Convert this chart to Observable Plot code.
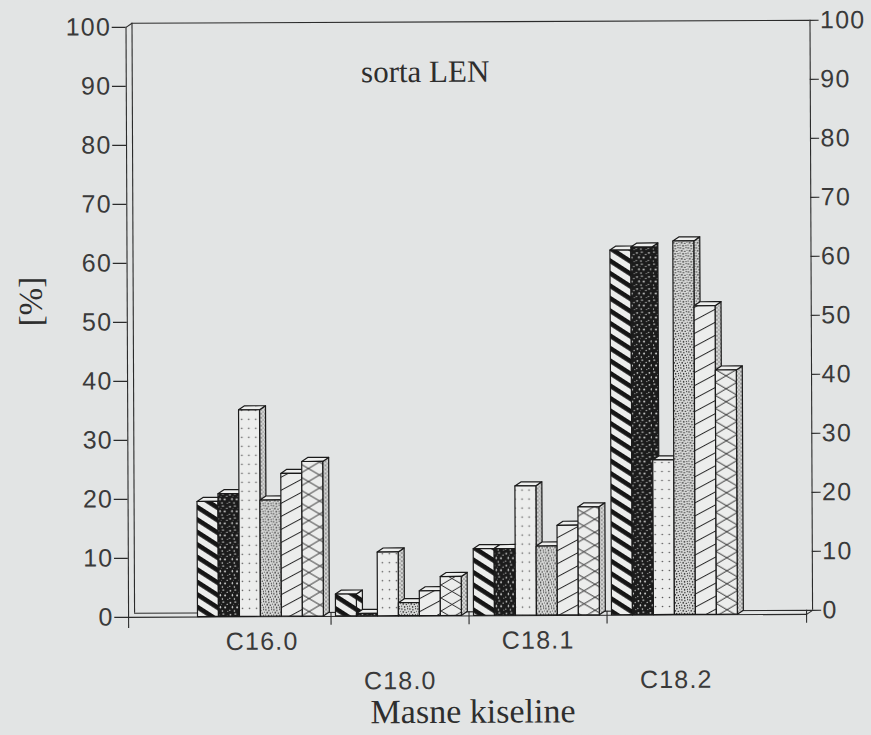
<!DOCTYPE html>
<html>
<head>
<meta charset="utf-8">
<script src="https://cdn.jsdelivr.net/npm/d3@7"></script>
<script src="https://cdn.jsdelivr.net/npm/@observablehq/plot@0.6"></script>
<style>
  html, body { margin: 0; padding: 0; background: #e2e4e4; overflow: hidden; }
  #chart svg { display: block; transform: rotate(-0.25deg); transform-origin: 50% 50%; }
  g[font-family^="Liberation Sans"] text { letter-spacing: 1.2px; }
</style>
</head>
<body>
<!-- fill patterns for the six bar series -->
<svg width="0" height="0" style="position:absolute">
  <defs>
    <pattern id="pHatch" patternUnits="userSpaceOnUse" width="20" height="10.5" patternTransform="rotate(33)">
      <rect width="20" height="10.5" fill="#ecedec"/>
      <rect width="20" height="4.6" fill="#151515"/>
    </pattern>
    <pattern id="pDark" patternUnits="userSpaceOnUse" width="12" height="12">
      <rect width="12" height="12" fill="#1b1b1b"/>
      <circle cx="1.4" cy="1.8" r="0.9" fill="#d0d1d0"/>
      <ellipse cx="6.3" cy="1.1" rx="1.2" ry="0.6" fill="#d0d1d0"/>
      <circle cx="10.2" cy="3.4" r="0.7" fill="#d0d1d0"/>
      <circle cx="8.1" cy="6.6" r="1.0" fill="#d0d1d0"/>
      <ellipse cx="3.4" cy="6.2" rx="0.7" ry="1.2" fill="#d0d1d0"/>
      <circle cx="0.8" cy="9.4" r="0.6" fill="#d0d1d0"/>
      <circle cx="5.4" cy="10.1" r="0.8" fill="#d0d1d0"/>
      <circle cx="10.8" cy="10.6" r="0.5" fill="#d0d1d0"/>
      <circle cx="4.6" cy="3.6" r="0.4" fill="#d0d1d0"/>
    </pattern>
    <pattern id="pDots" patternUnits="userSpaceOnUse" width="7" height="9">
      <rect width="7" height="9" fill="#ecedec"/>
      <circle cx="3.5" cy="4.5" r="0.8" fill="#555"/>
    </pattern>
    <pattern id="pStip" patternUnits="userSpaceOnUse" width="8" height="8">
      <rect width="8" height="8" fill="#dadbda"/>
      <circle cx="0.9" cy="1.0" r="0.8" fill="#1e1e1e"/>
      <circle cx="3.9" cy="1.8" r="0.7" fill="#1e1e1e"/>
      <circle cx="6.6" cy="0.7" r="0.6" fill="#1e1e1e"/>
      <circle cx="2.2" cy="3.9" r="0.8" fill="#1e1e1e"/>
      <circle cx="5.3" cy="4.4" r="0.7" fill="#1e1e1e"/>
      <circle cx="7.4" cy="3.2" r="0.5" fill="#1e1e1e"/>
      <circle cx="0.6" cy="6.1" r="0.6" fill="#1e1e1e"/>
      <circle cx="3.6" cy="6.9" r="0.8" fill="#1e1e1e"/>
      <circle cx="6.4" cy="6.6" r="0.6" fill="#1e1e1e"/>
    </pattern>
    <pattern id="pDiag" patternUnits="userSpaceOnUse" width="10" height="11.5" patternTransform="rotate(-28)">
      <rect width="10" height="11.5" fill="#ecedec"/>
      <line x1="0" y1="0.5" x2="10" y2="0.5" stroke="#2a2a2a" stroke-width="1"/>
    </pattern>
    <pattern id="pCross" patternUnits="userSpaceOnUse" width="22" height="13">
      <rect width="22" height="13" fill="#ecedec"/>
      <path d="M0,0L22,13M0,13L22,0" stroke="#2a2a2a" stroke-width="1" fill="none"/>
    </pattern>
    <pattern id="pSide" patternUnits="userSpaceOnUse" width="4" height="4">
      <rect width="4" height="4" fill="#d6d7d6"/>
      <circle cx="1" cy="1" r="0.65" fill="#2a2a2a"/>
      <circle cx="3" cy="3" r="0.6" fill="#2a2a2a"/>
    </pattern>
  </defs>
</svg>
<div id="chart"></div>
<script>
// fatty acid groups on the x axis
const groups = ["C16.0", "C18.0", "C18.1", "C18.2"];
// share [%] of each fatty acid, six samples per group
const valuesC160 = [19.5, 20.8, 35.0, 19.7, 24.2, 26.2];
const valuesC180 = [3.7, 0.4, 10.8, 2.2, 4.2, 6.6];
const valuesC181 = [11.3, 11.3, 21.9, 11.7, 15.2, 18.3];
const valuesC182 = [61.8, 62.3, 26.2, 63.3, 52.3, 41.4];
// y tick labels, both sides
const yTicks = [0, 10, 20, 30, 40, 50, 60, 70, 80, 90, 100];
// fill of each sample's bar front and side
const frontFills = ["pHatch", "pDark", "pDots", "pStip", "pDiag", "pCross"];
const sideFills = ["pHatch", "pDark", "pSide", "pStip", "pSide", "pSide"];

// frame extent and pseudo-3D depth (x in group units, y in percent)
const XMIN = -0.467, XMAX = 4.446;
const DX = 0.0435, DY = 0.68;
const OFF = 0.036, W = 0.152;

const bars = [];
[valuesC160, valuesC180, valuesC181, valuesC182].forEach((vals, gi) => {
  vals.forEach((v, si) => {
    const x1 = gi + OFF + si * W;
    bars.push({id: `${gi}-${si}`, group: groups[gi], gi, si, v, x1, x2: x1 + W});
  });
});

// side face: parallelogram to the right of the front
const sides = bars.flatMap(b => [
  {id: b.id, si: b.si, x: b.x2, y1: 0, y2: b.v},
  {id: b.id, si: b.si, x: b.x2 + DX, y1: DY, y2: b.v + DY}
]);
// top face: parallelogram above the front
const tops = bars.flatMap(b => [
  {id: b.id, si: b.si, x: b.x1, y1: b.v, y2: b.v},
  {id: b.id, si: b.si, x: b.x1 + DX, y1: b.v, y2: b.v + DY},
  {id: b.id, si: b.si, x: b.x2, y1: b.v, y2: b.v + DY},
  {id: b.id, si: b.si, x: b.x2 + DX, y1: b.v + DY, y2: b.v + DY}
]);

const line = {stroke: "#2b2b2b", strokeWidth: 1.1};
const edge = {stroke: "#1a1a1a", strokeWidth: 1.2, strokeLinejoin: "round"};
const sans = {fontFamily: "Liberation Sans, Arial, sans-serif", fontSize: 25, fill: "#3a3a3a"};
const serif = {fontFamily: "Liberation Serif, Times New Roman, serif", fill: "#2e2e2e"};

const chart = Plot.plot({
  width: 871,
  height: 735,
  marginLeft: 127,
  marginRight: 66,
  marginTop: 25.5,
  marginBottom: 119.5,
  style: {background: "#e2e4e4", overflow: "visible"},
  x: {type: "linear", domain: [XMIN, XMAX], axis: null},
  y: {type: "linear", domain: [0, 100], axis: null},
  marks: [
    // floor
    Plot.ruleY([DY], {x1: XMIN + DX, x2: XMAX + DX, ...line}),
    Plot.ruleY([0], {x1: XMIN, x2: XMAX, ...line}),
    Plot.link([0], {x1: XMAX, y1: 0, x2: XMAX + DX, y2: DY, ...line}),
    // left wall and back wall
    Plot.ruleX([XMIN], {y1: -1.9, y2: 100, ...line}),
    Plot.ruleX([XMIN + DX], {y1: DY, y2: 100 + DY, ...line}),
    Plot.link([0], {x1: XMIN, y1: 100, x2: XMIN + DX, y2: 100 + DY, ...line}),
    Plot.ruleY([100 + DY], {x1: XMIN + DX, x2: XMAX + DX, ...line}),
    Plot.ruleX([XMAX + DX], {y1: DY, y2: 100 + DY, ...line}),
    // left axis
    Plot.ruleY(yTicks, {x1: XMIN - 0.1, x2: XMIN, ...line}),
    Plot.text(yTicks, {x: XMIN, y: d => d, text: d => `${d}`, dx: -15, textAnchor: "end", ...sans}),
    // right axis (back wall)
    Plot.ruleY(yTicks, {y: d => d + DY, x1: XMAX + DX, x2: XMAX + DX + 0.066, ...line}),
    Plot.text(yTicks, {x: XMAX + DX, y: d => d + DY, text: d => `${d}`, dx: 10, textAnchor: "start", ...sans}),
    // group separators below the floor
    Plot.ruleX([1, 2, 3, XMAX], {y1: DY, y2: -1.5, ...line}),
    // bar sides, tops, fronts
    ...frontFills.map((f, si) => Plot.areaY(sides.filter(d => d.si === si), {
      x: "x", y1: "y1", y2: "y2", z: "id", curve: "linear",
      fill: `url(#${sideFills[si]})`, ...edge
    })),
    ...frontFills.map((f, si) => Plot.areaY(tops.filter(d => d.si === si), {
      x: "x", y1: "y1", y2: "y2", z: "id", curve: "linear",
      fill: "#eeefee", ...edge
    })),
    ...frontFills.map((f, si) => Plot.rect(bars.filter(d => d.si === si), {
      x1: "x1", x2: "x2", y1: 0, y2: "v", fill: `url(#${f})`, ...edge
    })),
    // group labels on two alternating rows
    Plot.text(groups, {x: (d, i) => i + 0.5, y: 0, dy: 25, text: d => d, filter: (d, i) => i % 2 === 0, ...sans}),
    Plot.text(groups, {x: (d, i) => i + 0.5, y: 0, dy: 65, text: d => d, filter: (d, i) => i % 2 === 1, ...sans}),
    // titles
    Plot.text(["sorta LEN"], {frameAnchor: "top", lineAnchor: "middle", dx: -40, dy: 46, fontSize: 31, ...serif}),
    Plot.text(["Masne kiseline"], {frameAnchor: "bottom", lineAnchor: "middle", dx: 5, dy: 96, fontSize: 34, ...serif}),
    Plot.text(["[%]"], {frameAnchor: "left", lineAnchor: "middle", rotate: -90, dx: -96, dy: 3.5, fontSize: 33, ...serif})
  ]
});

document.getElementById("chart").appendChild(chart);
</script>
</body>
</html>
